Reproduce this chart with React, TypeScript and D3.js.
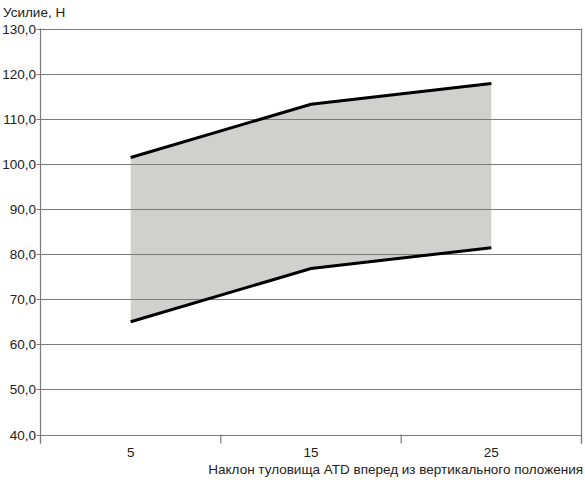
import React from "react";
import * as d3 from "d3";

const categories = ["5", "15", "25"];
const upperValues = [101.4, 113.2, 117.8];
const lowerValues = [65.0, 76.8, 81.4];
const yTicks = [40, 50, 60, 70, 80, 90, 100, 110, 120, 130];
const yTitle = "Усилие, Н";
const xTitle = "Наклон туловища ATD вперед из вертикального положения";

const W = 585;
const H = 480;
const left = 40.5;
const right = 581.5;
const top = 28.5;
const bottom = 434.5;
const font = "'Liberation Sans', Arial, sans-serif";

export default function App() {
  const x = d3.scaleBand<string>().domain(categories).range([left, right]).padding(0);
  const y = d3.scaleLinear().domain([40, 130]).range([bottom, top]);
  const cx = (c: string) => (x(c) as number) + x.bandwidth() / 2;

  const rows = categories.map((c, i) => ({ c, lo: lowerValues[i], hi: upperValues[i] }));
  const area = d3
    .area<(typeof rows)[number]>()
    .x((d) => cx(d.c))
    .y0((d) => y(d.lo))
    .y1((d) => y(d.hi));
  const lineHi = d3
    .line<(typeof rows)[number]>()
    .x((d) => cx(d.c))
    .y((d) => y(d.hi));
  const lineLo = d3
    .line<(typeof rows)[number]>()
    .x((d) => cx(d.c))
    .y((d) => y(d.lo));

  const boundaries = [left, ...categories.map((c) => (x(c) as number) + x.bandwidth())];

  return (
    <svg
      width={W}
      height={H}
      style={{ position: "absolute", left: 0, top: 0, background: "#fff" }}
      fontFamily={font}
    >
      <rect x={0} y={0} width={W} height={H} fill="#fff" />
      <path d={area(rows) || ""} fill="#d0d1cf" />
      {yTicks.map((t) => (
        <g key={t}>
          <line x1={left - 4} x2={right} y1={Math.round(y(t)) + 0.5} y2={Math.round(y(t)) + 0.5} stroke="#7a7a7a" strokeWidth={1} />
          <text x={36} y={y(t) + 5} fontSize={13.5} textAnchor="end" fill="#222">
            {t.toFixed(1).replace(".", ",")}
          </text>
        </g>
      ))}
      <line x1={left} x2={left} y1={top} y2={bottom + 9} stroke="#7a7a7a" strokeWidth={1.2} />
      <line x1={right} x2={right} y1={top} y2={bottom + 9} stroke="#7a7a7a" strokeWidth={1.2} />
      {boundaries.map((b, i) => (
        <line key={i} x1={b} x2={b} y1={bottom} y2={bottom + 9} stroke="#7a7a7a" strokeWidth={1.2} />
      ))}
      <path d={lineHi(rows) || ""} fill="none" stroke="#000" strokeWidth={3} />
      <path d={lineLo(rows) || ""} fill="none" stroke="#000" strokeWidth={3} />
      {categories.map((c) => (
        <text key={c} x={cx(c)} y={457} fontSize={13.5} textAnchor="middle" fill="#222">
          {c}
        </text>
      ))}
      <text x={3} y={17} fontSize={13.5} fill="#222">
        {yTitle}
      </text>
      <text x={583} y={474} fontSize={13.5} textAnchor="end" fill="#222">
        {xTitle}
      </text>
    </svg>
  );
}
